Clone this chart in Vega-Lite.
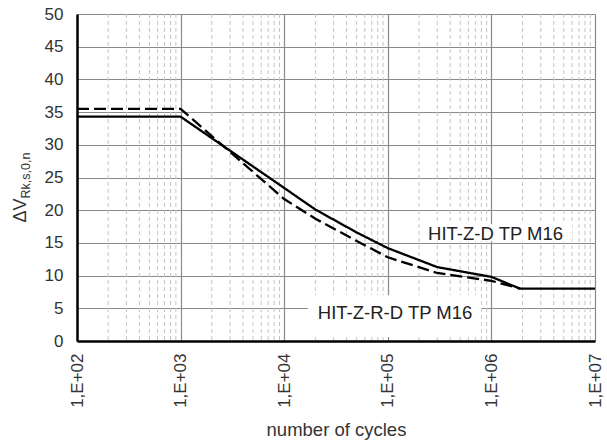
{
  "$schema": "https://vega.github.io/schema/vega-lite/v6.json",
  "width": 518,
  "height": 327,
  "autosize": {"type": "none"},
  "padding": {"left": 77, "top": 14, "right": 12, "bottom": 102},
  "config": {"view": {"stroke": null}, "font": "Liberation Sans"},
  "datasets": {
    "minor": [
      {"n": 200}, {"n": 300}, {"n": 400}, {"n": 500}, {"n": 600}, {"n": 700}, {"n": 800}, {"n": 900},
      {"n": 2000}, {"n": 3000}, {"n": 4000}, {"n": 5000}, {"n": 6000}, {"n": 7000}, {"n": 8000}, {"n": 9000},
      {"n": 20000}, {"n": 30000}, {"n": 40000}, {"n": 50000}, {"n": 60000}, {"n": 70000}, {"n": 80000}, {"n": 90000},
      {"n": 200000}, {"n": 300000}, {"n": 400000}, {"n": 500000}, {"n": 600000}, {"n": 700000}, {"n": 800000}, {"n": 900000},
      {"n": 2000000}, {"n": 3000000}, {"n": 4000000}, {"n": 5000000}, {"n": 6000000}, {"n": 7000000}, {"n": 8000000}, {"n": 9000000}
    ],
    "boxes": [
      {"n": 205000, "n2": 6000000, "v": 15.25, "v2": 17.9},
      {"n": 17000, "n2": 794000, "v": 0.6, "v2": 7.0}
    ],
    "labels": [
      {"n": 1097000, "v": 15.44, "label": "HIT-Z-D TP M16"},
      {"n": 117500, "v": 3.32, "label": "HIT-Z-R-D TP M16"}
    ],
    "curves": [
      {"series": "HIT-Z-D TP M16", "n": 100, "v": 34.3},
      {"series": "HIT-Z-D TP M16", "n": 1000, "v": 34.3},
      {"series": "HIT-Z-D TP M16", "n": 10000, "v": 23.4},
      {"series": "HIT-Z-D TP M16", "n": 20000, "v": 20.1},
      {"series": "HIT-Z-D TP M16", "n": 50000, "v": 16.6},
      {"series": "HIT-Z-D TP M16", "n": 100000, "v": 14.2},
      {"series": "HIT-Z-D TP M16", "n": 300000, "v": 11.3},
      {"series": "HIT-Z-D TP M16", "n": 1000000, "v": 9.8},
      {"series": "HIT-Z-D TP M16", "n": 1900000, "v": 8.0},
      {"series": "HIT-Z-D TP M16", "n": 10000000, "v": 8.0},
      {"series": "HIT-Z-R-D TP M16", "n": 100, "v": 35.5},
      {"series": "HIT-Z-R-D TP M16", "n": 1000, "v": 35.5},
      {"series": "HIT-Z-R-D TP M16", "n": 10000, "v": 21.7},
      {"series": "HIT-Z-R-D TP M16", "n": 20000, "v": 18.7},
      {"series": "HIT-Z-R-D TP M16", "n": 50000, "v": 15.3},
      {"series": "HIT-Z-R-D TP M16", "n": 100000, "v": 12.8},
      {"series": "HIT-Z-R-D TP M16", "n": 300000, "v": 10.4},
      {"series": "HIT-Z-R-D TP M16", "n": 1000000, "v": 9.2},
      {"series": "HIT-Z-R-D TP M16", "n": 1900000, "v": 8.0}
    ]
  },
  "encoding": {
    "x": {
      "field": "n",
      "type": "quantitative",
      "scale": {"type": "log", "domain": [100, 10000000]},
      "axis": {
        "values": [100, 1000, 10000, 100000, 1000000, 10000000],
        "labelExpr": "'1,E+0' + format(round(log(datum.value) / LN10), 'd')",
        "labelAngle": -90,
        "labelFontSize": 17,
        "labelColor": "#333333",
        "labelPadding": 12,
        "labelFlush": false,
        "labelOverlap": false,
        "ticks": false,
        "tickSize": 0,
        "domainColor": "#000000",
        "domainWidth": 2.5,
        "grid": true,
        "gridColor": "#8a8a8a",
        "gridWidth": 1.2,
        "title": "number of cycles",
        "titleFontSize": 18.5,
        "titleFontWeight": "normal",
        "titleColor": "#333333",
        "titlePadding": 13
      }
    }
  },
  "layer": [
    {
      "data": {"name": "minor"},
      "mark": {"type": "rule", "stroke": "#c4c4c4", "strokeWidth": 1, "strokeDash": [4, 3]},
      "encoding": {}
    },
    {
      "data": {"name": "boxes"},
      "mark": {"type": "rect", "fill": "#ffffff"},
      "encoding": {
        "x2": {"field": "n2"},
        "y": {"field": "v", "type": "quantitative", "scale": {"domain": [0, 50], "nice": false}, "axis": null},
        "y2": {"field": "v2"}
      }
    },
    {
      "data": {"name": "labels"},
      "mark": {"type": "text", "fontSize": 18.5, "align": "center", "baseline": "alphabetic", "color": "#222222"},
      "encoding": {
        "y": {
          "field": "v",
          "type": "quantitative",
          "scale": {"domain": [0, 50], "nice": false},
          "axis": {
            "orient": "left",
            "title": "Rk,s,0,n",
            "labels": false,
            "ticks": false,
            "domain": false,
            "grid": false,
            "titleFontSize": 12.5,
            "titleFontWeight": "normal",
            "titleColor": "#333333",
            "titleAngle": 270,
            "titleX": -48,
            "titleY": 184,
            "titleAlign": "left",
            "titleBaseline": "alphabetic"
          }
        },
        "text": {"field": "label"}
      }
    },
    {
      "data": {"name": "curves"},
      "mark": {"type": "line", "color": "#000000", "strokeWidth": 2.3},
      "encoding": {
        "y": {
          "field": "v",
          "type": "quantitative",
          "scale": {"domain": [0, 50], "nice": false},
          "axis": {
            "orient": "left",
            "values": [0, 5, 10, 15, 20, 25, 30, 35, 40, 45, 50],
            "labelFontSize": 17,
            "labelColor": "#333333",
            "labelPadding": 14,
            "ticks": false,
            "tickSize": 0,
            "domainColor": "#000000",
            "domainWidth": 2.5,
            "grid": true,
            "gridColor": "#8a8a8a",
            "gridWidth": 1.2,
            "title": "ΔV",
            "titleFontSize": 18,
            "titleFontWeight": "normal",
            "titleColor": "#333333",
            "titleAngle": 270,
            "titleX": -52,
            "titleY": 208,
            "titleAlign": "left",
            "titleBaseline": "alphabetic"
          }
        },
        "strokeDash": {
          "field": "series",
          "type": "nominal",
          "scale": {"domain": ["HIT-Z-D TP M16", "HIT-Z-R-D TP M16"], "range": [[1, 0], [12, 5]]},
          "legend": null
        }
      }
    }
  ],
  "resolve": {"axis": {"y": "independent"}}
}
